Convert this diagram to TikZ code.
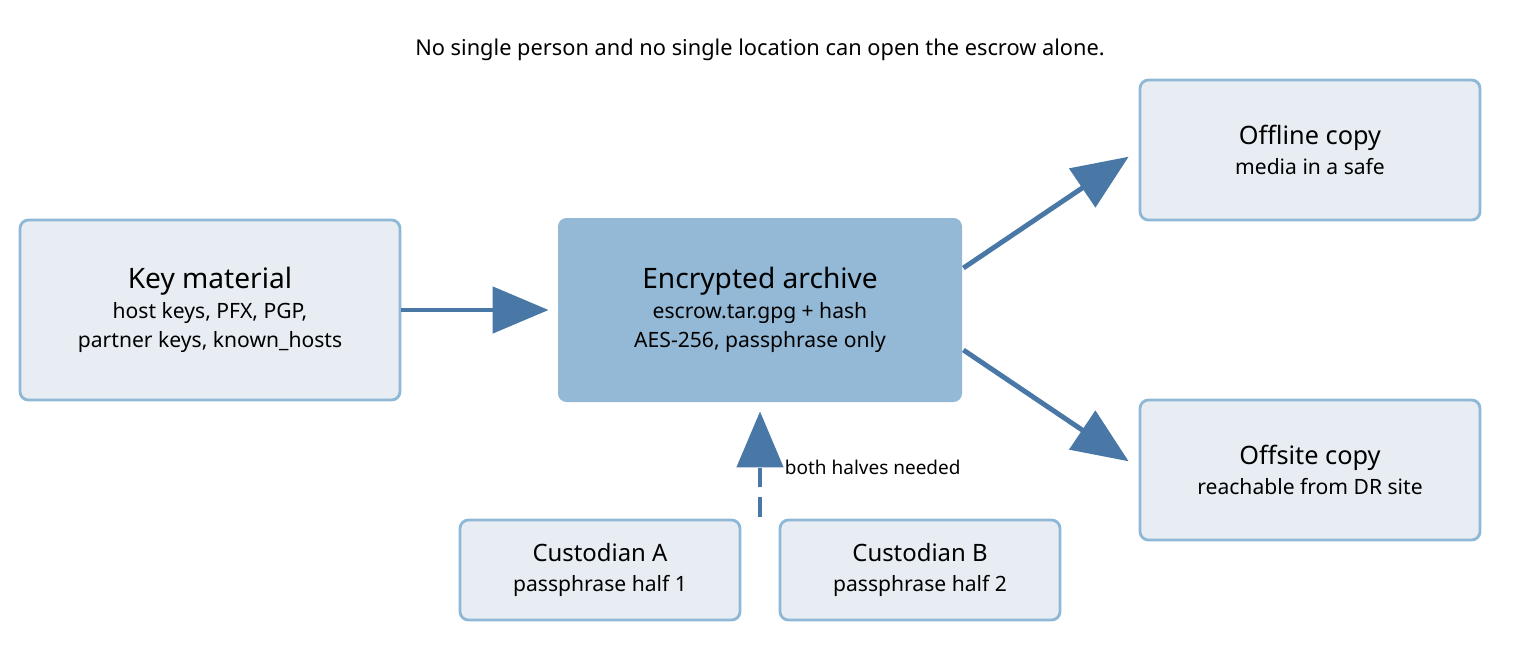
\documentclass[tikz,border=0pt]{standalone}
\usepackage{fontspec}
\setmainfont{Noto Sans}
\usetikzlibrary{arrows.meta,positioning}
\definecolor{boxline}{HTML}{8FB8D6}
\definecolor{boxfill}{HTML}{E8EDF3}
\definecolor{mainfill}{HTML}{93B9D6}
\definecolor{arrowcol}{HTML}{4A78A6}
\begin{document}
\begin{tikzpicture}[
    x={(0.025cm,0)}, y={(0,-0.025cm)},
    box/.style={rectangle, rounded corners=6pt, draw=boxline, fill=boxfill, line width=2pt, align=center, font=\fontsize{15}{21}\selectfont},
    mainbox/.style={box, draw=none, fill=mainfill},
    arrow/.style={-{Triangle[length=1.4cm, width=1.15cm]}, draw=arrowcol, line width=3.5pt},
    label/.style={font=\fontsize{13.5}{16}\selectfont}
]
\useasboundingbox (0,0) rectangle (1520,660);

% Title
\node[font=\fontsize{15.5}{19}\selectfont] (title) at (760,50) {No single person and no single location can open the escrow alone.};

% Boxes
\node[box, minimum width=380*0.025cm, minimum height=180*0.025cm] (key) at (210,310)
  {{\bfseries\fontsize{20}{26}\selectfont Key material}\\host keys, PFX, PGP,\\partner keys, known\_hosts};
\node[mainbox, minimum width=404*0.025cm, minimum height=184*0.025cm] (archive) at (760,310)
  {{\bfseries\fontsize{20}{26}\selectfont Encrypted archive}\\escrow.tar.gpg + hash\\AES-256, passphrase only};
\node[box, minimum width=340*0.025cm, minimum height=140*0.025cm] (offline) at (1310,150)
  {{\bfseries\fontsize{18}{26}\selectfont Offline copy}\\media in a safe};
\node[box, minimum width=340*0.025cm, minimum height=140*0.025cm] (offsite) at (1310,470)
  {{\bfseries\fontsize{18}{26}\selectfont Offsite copy}\\reachable from DR site};

% Custodians
\node[box, minimum width=280*0.025cm, minimum height=100*0.025cm] (custa) at (600,570)
  {{\bfseries\fontsize{17}{22}\selectfont Custodian A}\\passphrase half 1};
\node[box, minimum width=280*0.025cm, minimum height=100*0.025cm] (custb) at (920,570)
  {{\bfseries\fontsize{17}{22}\selectfont Custodian B}\\passphrase half 2};
\coordinate (halves) at (760,517);

% Arrows
\draw[arrow, shorten >=8*0.025cm] (key) -- (archive);
\draw[arrow, shorten >=12*0.025cm] ([yshift=42*0.025cm]archive.east) -- (offline.west);
\draw[arrow, shorten >=12*0.025cm] ([yshift=-40*0.025cm]archive.east) -- ([yshift=2*0.025cm]offsite.west);
\draw[arrow, dash pattern=on 14pt off 7pt, shorten >=8*0.025cm] (halves) -- (archive.south);
\node[label, anchor=west] (needed) at (780,467) {both halves needed};
\end{tikzpicture}
\end{document}
